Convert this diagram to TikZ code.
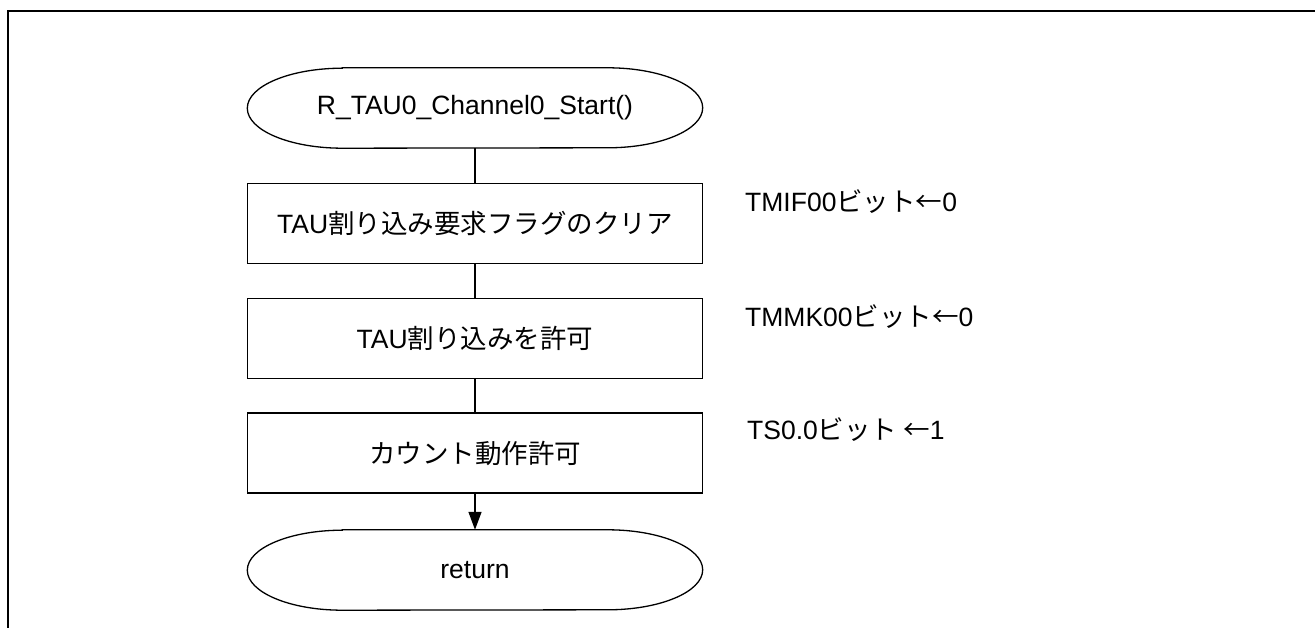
\documentclass[tikz,border=0pt]{standalone}
\usepackage{fontspec}
\setmainfont{Liberation Sans}
\newfontfamily\jp{Noto Sans CJK JP}
\usetikzlibrary{arrows.meta}
\newcommand\drawterm[1]{\draw[termline] ([xshift=95pt]#1.north west) -- ([xshift=-95pt]#1.north east) arc[start angle=90,end angle=-90,x radius=95pt,y radius=40pt] -- ([xshift=95pt]#1.south west) arc[start angle=270,end angle=90,x radius=95pt,y radius=40pt] -- cycle;}
\begin{document}
\begin{tikzpicture}[x=1pt,y=-1pt,
  font=\fontsize{26.5}{32}\selectfont,
  proc/.style={draw, line width=1.6pt, minimum width=455pt, minimum height=80pt, inner sep=0pt},
  term/.style={minimum width=455pt, minimum height=80pt, inner sep=0pt},
  termline/.style={line width=1.3pt},
  note/.style={anchor=west, inner sep=0pt},
  conn/.style={line width=1.4pt},
  frameline/.style={line width=2.7pt}]
\useasboundingbox (0,0) rectangle (1315,628);
\draw[frameline] (8,628) -- (8,11) -- (1316,11);

\node[term] (start) at (475,108) {R\_TAU0\_Channel0\_Start()};
\drawterm{start}
\node[proc] (b1) at (475,223.5) {TAU{\jp 割り込み要求フラグのクリア}};
\node[proc] (b2) at (475,338.5) {TAU{\jp 割り込みを許可}};
\node[proc] (b3) at (475,453) {\jp カウント動作許可};
\node[term] (ret) at (475,570) {return};
\drawterm{ret}

\draw[conn] (start.south) -- (b1.north);
\draw[conn] (b1.south) -- (b2.north);
\draw[conn] (b2.south) -- (b3.north);
\draw[conn,-{Triangle[length=18pt,width=13pt]}] (b3.south) -- (ret.north);

\node[note] (n1) at (745,202) {TMIF00{\jp ビット←}0};
\node[note] (n2) at (745,317) {TMMK00{\jp ビット←}0};
\node[note] (n3) at (747,430) {TS0.0{\jp ビット ←}1};
\end{tikzpicture}
\end{document}
